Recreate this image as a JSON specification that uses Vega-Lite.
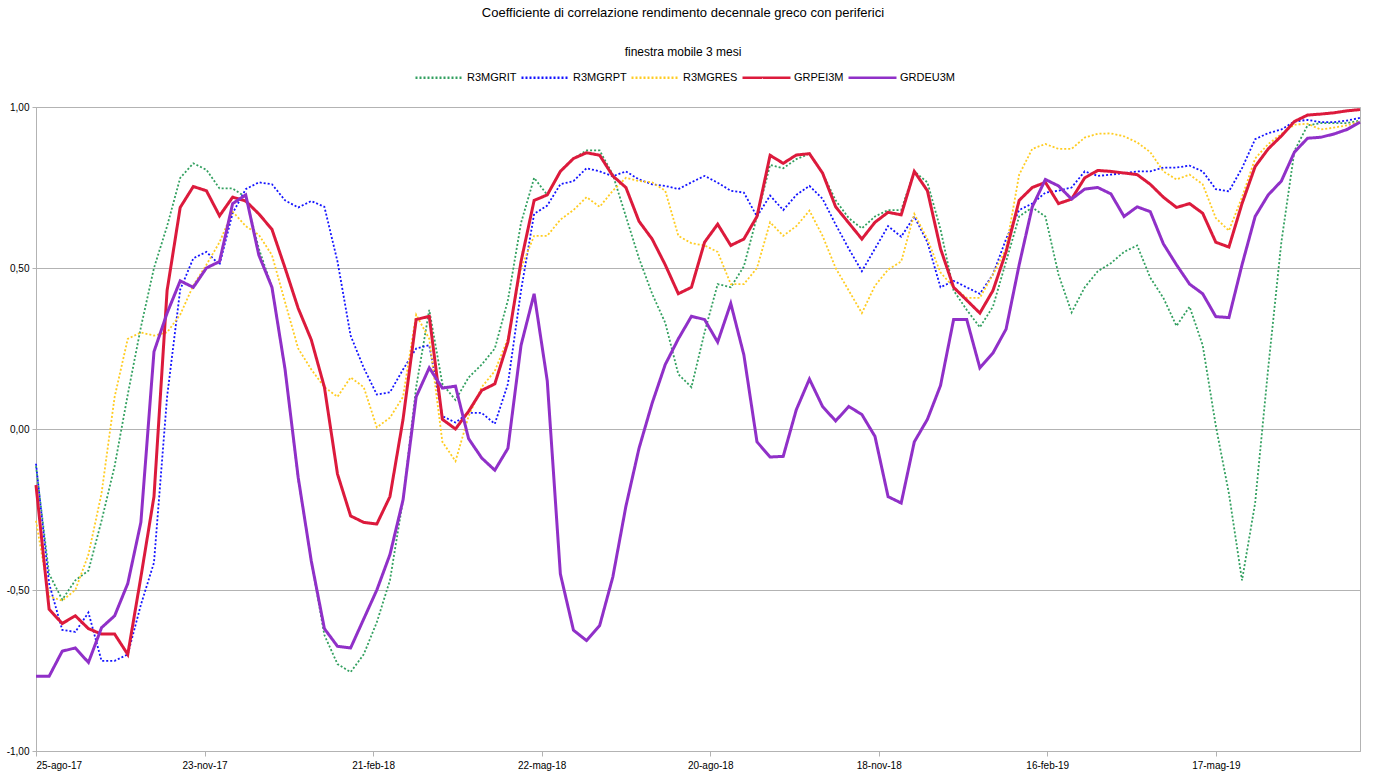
{
"$schema": "https://vega.github.io/schema/vega-lite/v6.json",
"width": 1324, "height": 644,
"autosize": "none",
"padding": {"left": 36, "top": 107, "right": 15, "bottom": 26},
"background": "white",
"title": {"text": "Coefficiente di correlazione rendimento decennale greco con periferici", "subtitle": "finestra mobile 3 mesi", "anchor": "middle", "dx": -15, "offset": -6, "fontSize": 13, "subtitleFontSize": 12, "font": "Liberation Sans", "subtitleFont": "Liberation Sans", "fontWeight": "normal", "color": "black", "subtitleColor": "black", "subtitlePadding": 27},
"config": {
  "locale": {"number": {"decimal": ",", "thousands": ".", "grouping": [3], "currency": ["", " €"], "minus": "-"},
    "time": {"dateTime": "%A %e %B %Y, %X", "date": "%d/%m/%Y", "time": "%H:%M:%S", "periods": ["AM", "PM"], "days": ["domenica","lunedì","martedì","mercoledì","giovedì","venerdì","sabato"], "shortDays": ["dom","lun","mar","mer","gio","ven","sab"], "months": ["gennaio","febbraio","marzo","aprile","maggio","giugno","luglio","agosto","settembre","ottobre","novembre","dicembre"], "shortMonths": ["gen","feb","mar","apr","mag","giu","lug","ago","set","ott","nov","dic"]}},
  "view": {"stroke": "#b3b3b3"},
  "axis": {"labelFont": "Liberation Sans", "labelFontSize": 10, "labelColor": "black", "domainColor": "#b3b3b3", "tickColor": "#b3b3b3", "gridColor": "#b3b3b3"},
  "legend": {"orient": "none", "legendX": 378, "legendY": -55, "direction": "horizontal", "title": null, "symbolType": "stroke", "symbolSize": 2304, "symbolStrokeWidth": 2.5, "labelFontSize": 11, "labelFont": "Liberation Sans", "labelColor": "black", "columnPadding": -1, "labelOffset": 2}
},
"data": {"values": [
{"d":"2017-08-25","R3MGRIT":-0.115,"R3MGRPT":-0.108,"R3MGRES":-0.285,"GRPEI3M":-0.174,"GRDEU3M":-0.768},
{"d":"2017-09-01","R3MGRIT":-0.45,"R3MGRPT":-0.48,"R3MGRES":-0.52,"GRPEI3M":-0.56,"GRDEU3M":-0.768},
{"d":"2017-09-08","R3MGRIT":-0.53,"R3MGRPT":-0.624,"R3MGRES":-0.533,"GRPEI3M":-0.604,"GRDEU3M":-0.69},
{"d":"2017-09-15","R3MGRIT":-0.47,"R3MGRPT":-0.63,"R3MGRES":-0.5,"GRPEI3M":-0.58,"GRDEU3M":-0.68},
{"d":"2017-09-22","R3MGRIT":-0.44,"R3MGRPT":-0.57,"R3MGRES":-0.39,"GRPEI3M":-0.62,"GRDEU3M":-0.725},
{"d":"2017-09-29","R3MGRIT":-0.285,"R3MGRPT":-0.72,"R3MGRES":-0.2,"GRPEI3M":-0.637,"GRDEU3M":-0.617},
{"d":"2017-10-06","R3MGRIT":-0.115,"R3MGRPT":-0.72,"R3MGRES":0.1,"GRPEI3M":-0.637,"GRDEU3M":-0.58},
{"d":"2017-10-13","R3MGRIT":0.107,"R3MGRPT":-0.7,"R3MGRES":0.28,"GRPEI3M":-0.7,"GRDEU3M":-0.48},
{"d":"2017-10-20","R3MGRIT":0.316,"R3MGRPT":-0.546,"R3MGRES":0.3,"GRPEI3M":-0.46,"GRDEU3M":-0.29},
{"d":"2017-10-27","R3MGRIT":0.5,"R3MGRPT":-0.415,"R3MGRES":0.29,"GRPEI3M":-0.21,"GRDEU3M":0.24},
{"d":"2017-11-03","R3MGRIT":0.63,"R3MGRPT":0.1,"R3MGRES":0.3,"GRPEI3M":0.43,"GRDEU3M":0.36},
{"d":"2017-11-10","R3MGRIT":0.78,"R3MGRPT":0.433,"R3MGRES":0.355,"GRPEI3M":0.688,"GRDEU3M":0.46},
{"d":"2017-11-17","R3MGRIT":0.825,"R3MGRPT":0.53,"R3MGRES":0.446,"GRPEI3M":0.753,"GRDEU3M":0.44},
{"d":"2017-11-24","R3MGRIT":0.805,"R3MGRPT":0.55,"R3MGRES":0.51,"GRPEI3M":0.74,"GRDEU3M":0.5},
{"d":"2017-12-01","R3MGRIT":0.747,"R3MGRPT":0.51,"R3MGRES":0.58,"GRPEI3M":0.662,"GRDEU3M":0.52},
{"d":"2017-12-08","R3MGRIT":0.747,"R3MGRPT":0.67,"R3MGRES":0.675,"GRPEI3M":0.72,"GRDEU3M":0.7},
{"d":"2017-12-15","R3MGRIT":0.72,"R3MGRPT":0.745,"R3MGRES":0.63,"GRPEI3M":0.708,"GRDEU3M":0.727},
{"d":"2017-12-22","R3MGRIT":0.56,"R3MGRPT":0.766,"R3MGRES":0.603,"GRPEI3M":0.668,"GRDEU3M":0.54},
{"d":"2017-12-29","R3MGRIT":0.44,"R3MGRPT":0.76,"R3MGRES":0.54,"GRPEI3M":0.62,"GRDEU3M":0.44},
{"d":"2018-01-05","R3MGRIT":0.185,"R3MGRPT":0.71,"R3MGRES":0.394,"GRPEI3M":0.5,"GRDEU3M":0.185},
{"d":"2018-01-12","R3MGRIT":-0.154,"R3MGRPT":0.688,"R3MGRES":0.25,"GRPEI3M":0.375,"GRDEU3M":-0.15},
{"d":"2018-01-19","R3MGRIT":-0.41,"R3MGRPT":0.708,"R3MGRES":0.185,"GRPEI3M":0.277,"GRDEU3M":-0.41},
{"d":"2018-01-26","R3MGRIT":-0.64,"R3MGRPT":0.69,"R3MGRES":0.13,"GRPEI3M":0.13,"GRDEU3M":-0.62},
{"d":"2018-02-02","R3MGRIT":-0.73,"R3MGRPT":0.52,"R3MGRES":0.1,"GRPEI3M":-0.14,"GRDEU3M":-0.675},
{"d":"2018-02-09","R3MGRIT":-0.755,"R3MGRPT":0.29,"R3MGRES":0.16,"GRPEI3M":-0.27,"GRDEU3M":-0.68},
{"d":"2018-02-16","R3MGRIT":-0.7,"R3MGRPT":0.19,"R3MGRES":0.13,"GRPEI3M":-0.29,"GRDEU3M":-0.59},
{"d":"2018-02-23","R3MGRIT":-0.6,"R3MGRPT":0.107,"R3MGRES":0.005,"GRPEI3M":-0.295,"GRDEU3M":-0.5},
{"d":"2018-03-02","R3MGRIT":-0.47,"R3MGRPT":0.114,"R3MGRES":0.035,"GRPEI3M":-0.21,"GRDEU3M":-0.39},
{"d":"2018-03-09","R3MGRIT":-0.22,"R3MGRPT":0.185,"R3MGRES":0.1,"GRPEI3M":0.03,"GRDEU3M":-0.22},
{"d":"2018-03-16","R3MGRIT":0.13,"R3MGRPT":0.25,"R3MGRES":0.355,"GRPEI3M":0.34,"GRDEU3M":0.1},
{"d":"2018-03-23","R3MGRIT":0.37,"R3MGRPT":0.26,"R3MGRES":0.28,"GRPEI3M":0.35,"GRDEU3M":0.19},
{"d":"2018-03-30","R3MGRIT":0.14,"R3MGRPT":0.04,"R3MGRES":-0.04,"GRPEI3M":0.03,"GRDEU3M":0.127},
{"d":"2018-04-06","R3MGRIT":0.09,"R3MGRPT":0.02,"R3MGRES":-0.1,"GRPEI3M":0.0,"GRDEU3M":0.133},
{"d":"2018-04-13","R3MGRIT":0.16,"R3MGRPT":0.05,"R3MGRES":0.04,"GRPEI3M":0.055,"GRDEU3M":-0.03},
{"d":"2018-04-20","R3MGRIT":0.2,"R3MGRPT":0.05,"R3MGRES":0.13,"GRPEI3M":0.12,"GRDEU3M":-0.09},
{"d":"2018-04-27","R3MGRIT":0.25,"R3MGRPT":0.016,"R3MGRES":0.18,"GRPEI3M":0.14,"GRDEU3M":-0.128},
{"d":"2018-05-04","R3MGRIT":0.4,"R3MGRPT":0.14,"R3MGRES":0.28,"GRPEI3M":0.27,"GRDEU3M":-0.06},
{"d":"2018-05-11","R3MGRIT":0.64,"R3MGRPT":0.43,"R3MGRES":0.5,"GRPEI3M":0.52,"GRDEU3M":0.26},
{"d":"2018-05-18","R3MGRIT":0.78,"R3MGRPT":0.668,"R3MGRES":0.6,"GRPEI3M":0.71,"GRDEU3M":0.42},
{"d":"2018-05-25","R3MGRIT":0.727,"R3MGRPT":0.694,"R3MGRES":0.6,"GRPEI3M":0.727,"GRDEU3M":0.15},
{"d":"2018-06-01","R3MGRIT":0.8,"R3MGRPT":0.76,"R3MGRES":0.65,"GRPEI3M":0.8,"GRDEU3M":-0.45},
{"d":"2018-06-08","R3MGRIT":0.84,"R3MGRPT":0.77,"R3MGRES":0.68,"GRPEI3M":0.84,"GRDEU3M":-0.625},
{"d":"2018-06-15","R3MGRIT":0.865,"R3MGRPT":0.81,"R3MGRES":0.72,"GRPEI3M":0.858,"GRDEU3M":-0.657},
{"d":"2018-06-22","R3MGRIT":0.865,"R3MGRPT":0.8,"R3MGRES":0.69,"GRPEI3M":0.85,"GRDEU3M":-0.61},
{"d":"2018-06-29","R3MGRIT":0.79,"R3MGRPT":0.785,"R3MGRES":0.74,"GRPEI3M":0.786,"GRDEU3M":-0.46},
{"d":"2018-07-06","R3MGRIT":0.66,"R3MGRPT":0.8,"R3MGRES":0.78,"GRPEI3M":0.75,"GRDEU3M":-0.24},
{"d":"2018-07-13","R3MGRIT":0.53,"R3MGRPT":0.775,"R3MGRES":0.77,"GRPEI3M":0.645,"GRDEU3M":-0.06},
{"d":"2018-07-20","R3MGRIT":0.42,"R3MGRPT":0.76,"R3MGRES":0.766,"GRPEI3M":0.59,"GRDEU3M":0.08},
{"d":"2018-07-27","R3MGRIT":0.33,"R3MGRPT":0.755,"R3MGRES":0.74,"GRPEI3M":0.51,"GRDEU3M":0.2},
{"d":"2018-08-03","R3MGRIT":0.17,"R3MGRPT":0.745,"R3MGRES":0.6,"GRPEI3M":0.42,"GRDEU3M":0.28},
{"d":"2018-08-10","R3MGRIT":0.13,"R3MGRPT":0.766,"R3MGRES":0.577,"GRPEI3M":0.44,"GRDEU3M":0.35},
{"d":"2018-08-17","R3MGRIT":0.3,"R3MGRPT":0.786,"R3MGRES":0.57,"GRPEI3M":0.58,"GRDEU3M":0.34},
{"d":"2018-08-24","R3MGRIT":0.45,"R3MGRPT":0.765,"R3MGRES":0.55,"GRPEI3M":0.636,"GRDEU3M":0.27},
{"d":"2018-08-31","R3MGRIT":0.44,"R3MGRPT":0.74,"R3MGRES":0.45,"GRPEI3M":0.57,"GRDEU3M":0.39},
{"d":"2018-09-07","R3MGRIT":0.505,"R3MGRPT":0.734,"R3MGRES":0.45,"GRPEI3M":0.59,"GRDEU3M":0.23},
{"d":"2018-09-14","R3MGRIT":0.66,"R3MGRPT":0.66,"R3MGRES":0.5,"GRPEI3M":0.66,"GRDEU3M":-0.04},
{"d":"2018-09-21","R3MGRIT":0.82,"R3MGRPT":0.725,"R3MGRES":0.642,"GRPEI3M":0.85,"GRDEU3M":-0.087},
{"d":"2018-09-28","R3MGRIT":0.81,"R3MGRPT":0.68,"R3MGRES":0.6,"GRPEI3M":0.825,"GRDEU3M":-0.085},
{"d":"2018-10-05","R3MGRIT":0.838,"R3MGRPT":0.727,"R3MGRES":0.63,"GRPEI3M":0.851,"GRDEU3M":0.06},
{"d":"2018-10-12","R3MGRIT":0.855,"R3MGRPT":0.755,"R3MGRES":0.678,"GRPEI3M":0.855,"GRDEU3M":0.155},
{"d":"2018-10-19","R3MGRIT":0.795,"R3MGRPT":0.715,"R3MGRES":0.6,"GRPEI3M":0.795,"GRDEU3M":0.07},
{"d":"2018-10-26","R3MGRIT":0.71,"R3MGRPT":0.635,"R3MGRES":0.5,"GRPEI3M":0.69,"GRDEU3M":0.025},
{"d":"2018-11-02","R3MGRIT":0.655,"R3MGRPT":0.56,"R3MGRES":0.43,"GRPEI3M":0.64,"GRDEU3M":0.07},
{"d":"2018-11-09","R3MGRIT":0.623,"R3MGRPT":0.49,"R3MGRES":0.36,"GRPEI3M":0.59,"GRDEU3M":0.045},
{"d":"2018-11-16","R3MGRIT":0.66,"R3MGRPT":0.56,"R3MGRES":0.445,"GRPEI3M":0.642,"GRDEU3M":-0.023},
{"d":"2018-11-23","R3MGRIT":0.68,"R3MGRPT":0.63,"R3MGRES":0.495,"GRPEI3M":0.673,"GRDEU3M":-0.21},
{"d":"2018-11-30","R3MGRIT":0.68,"R3MGRPT":0.597,"R3MGRES":0.52,"GRPEI3M":0.665,"GRDEU3M":-0.23},
{"d":"2018-12-07","R3MGRIT":0.8,"R3MGRPT":0.66,"R3MGRES":0.668,"GRPEI3M":0.8,"GRDEU3M":-0.04},
{"d":"2018-12-14","R3MGRIT":0.766,"R3MGRPT":0.58,"R3MGRES":0.59,"GRPEI3M":0.74,"GRDEU3M":0.03},
{"d":"2018-12-21","R3MGRIT":0.62,"R3MGRPT":0.44,"R3MGRES":0.486,"GRPEI3M":0.56,"GRDEU3M":0.135},
{"d":"2018-12-28","R3MGRIT":0.43,"R3MGRPT":0.46,"R3MGRES":0.44,"GRPEI3M":0.44,"GRDEU3M":0.34},
{"d":"2019-01-04","R3MGRIT":0.37,"R3MGRPT":0.44,"R3MGRES":0.407,"GRPEI3M":0.4,"GRDEU3M":0.34},
{"d":"2019-01-11","R3MGRIT":0.316,"R3MGRPT":0.42,"R3MGRES":0.407,"GRPEI3M":0.36,"GRDEU3M":0.19},
{"d":"2019-01-18","R3MGRIT":0.38,"R3MGRPT":0.48,"R3MGRES":0.48,"GRPEI3M":0.43,"GRDEU3M":0.236},
{"d":"2019-01-25","R3MGRIT":0.52,"R3MGRPT":0.59,"R3MGRES":0.56,"GRPEI3M":0.55,"GRDEU3M":0.31},
{"d":"2019-02-01","R3MGRIT":0.66,"R3MGRPT":0.68,"R3MGRES":0.79,"GRPEI3M":0.71,"GRDEU3M":0.51},
{"d":"2019-02-08","R3MGRIT":0.688,"R3MGRPT":0.7,"R3MGRES":0.87,"GRPEI3M":0.75,"GRDEU3M":0.69},
{"d":"2019-02-15","R3MGRIT":0.66,"R3MGRPT":0.734,"R3MGRES":0.885,"GRPEI3M":0.766,"GRDEU3M":0.775},
{"d":"2019-02-22","R3MGRIT":0.48,"R3MGRPT":0.74,"R3MGRES":0.87,"GRPEI3M":0.7,"GRDEU3M":0.755},
{"d":"2019-03-01","R3MGRIT":0.362,"R3MGRPT":0.75,"R3MGRES":0.87,"GRPEI3M":0.714,"GRDEU3M":0.714},
{"d":"2019-03-08","R3MGRIT":0.44,"R3MGRPT":0.8,"R3MGRES":0.905,"GRPEI3M":0.78,"GRDEU3M":0.745},
{"d":"2019-03-15","R3MGRIT":0.49,"R3MGRPT":0.786,"R3MGRES":0.917,"GRPEI3M":0.803,"GRDEU3M":0.75},
{"d":"2019-03-22","R3MGRIT":0.515,"R3MGRPT":0.79,"R3MGRES":0.918,"GRPEI3M":0.8,"GRDEU3M":0.73},
{"d":"2019-03-29","R3MGRIT":0.55,"R3MGRPT":0.795,"R3MGRES":0.909,"GRPEI3M":0.795,"GRDEU3M":0.66},
{"d":"2019-04-05","R3MGRIT":0.57,"R3MGRPT":0.8,"R3MGRES":0.89,"GRPEI3M":0.79,"GRDEU3M":0.69},
{"d":"2019-04-12","R3MGRIT":0.47,"R3MGRPT":0.8,"R3MGRES":0.86,"GRPEI3M":0.76,"GRDEU3M":0.675},
{"d":"2019-04-19","R3MGRIT":0.407,"R3MGRPT":0.812,"R3MGRES":0.8,"GRPEI3M":0.72,"GRDEU3M":0.575},
{"d":"2019-04-26","R3MGRIT":0.32,"R3MGRPT":0.812,"R3MGRES":0.775,"GRPEI3M":0.688,"GRDEU3M":0.51},
{"d":"2019-05-03","R3MGRIT":0.38,"R3MGRPT":0.818,"R3MGRES":0.79,"GRPEI3M":0.7,"GRDEU3M":0.45},
{"d":"2019-05-10","R3MGRIT":0.26,"R3MGRPT":0.8,"R3MGRES":0.76,"GRPEI3M":0.67,"GRDEU3M":0.42},
{"d":"2019-05-17","R3MGRIT":0.01,"R3MGRPT":0.745,"R3MGRES":0.655,"GRPEI3M":0.58,"GRDEU3M":0.349},
{"d":"2019-05-24","R3MGRIT":-0.2,"R3MGRPT":0.738,"R3MGRES":0.616,"GRPEI3M":0.565,"GRDEU3M":0.346},
{"d":"2019-05-31","R3MGRIT":-0.47,"R3MGRPT":0.81,"R3MGRES":0.72,"GRPEI3M":0.7,"GRDEU3M":0.51},
{"d":"2019-06-07","R3MGRIT":-0.23,"R3MGRPT":0.9,"R3MGRES":0.84,"GRPEI3M":0.815,"GRDEU3M":0.66},
{"d":"2019-06-14","R3MGRIT":0.19,"R3MGRPT":0.919,"R3MGRES":0.885,"GRPEI3M":0.87,"GRDEU3M":0.727},
{"d":"2019-06-21","R3MGRIT":0.58,"R3MGRPT":0.93,"R3MGRES":0.916,"GRPEI3M":0.91,"GRDEU3M":0.77},
{"d":"2019-06-28","R3MGRIT":0.864,"R3MGRPT":0.955,"R3MGRES":0.945,"GRPEI3M":0.955,"GRDEU3M":0.86},
{"d":"2019-07-05","R3MGRIT":0.943,"R3MGRPT":0.96,"R3MGRES":0.948,"GRPEI3M":0.975,"GRDEU3M":0.903},
{"d":"2019-07-12","R3MGRIT":0.95,"R3MGRPT":0.953,"R3MGRES":0.93,"GRPEI3M":0.978,"GRDEU3M":0.906},
{"d":"2019-07-19","R3MGRIT":0.95,"R3MGRPT":0.953,"R3MGRES":0.936,"GRPEI3M":0.982,"GRDEU3M":0.916},
{"d":"2019-07-26","R3MGRIT":0.95,"R3MGRPT":0.958,"R3MGRES":0.943,"GRPEI3M":0.988,"GRDEU3M":0.93},
{"d":"2019-08-02","R3MGRIT":0.958,"R3MGRPT":0.966,"R3MGRES":0.955,"GRPEI3M":0.992,"GRDEU3M":0.953}
]},
"transform": [{"fold": ["R3MGRIT","R3MGRPT","R3MGRES","GRPEI3M","GRDEU3M"], "as": ["serie","val"]}],
"encoding": {
  "x": {"field": "d", "type": "temporal",
    "scale": {"type": "utc", "domain": [{"year":2017,"month":8,"date":25,"utc":true},{"year":2019,"month":8,"date":2,"utc":true}]},
    "axis": {"values": [{"year":2017,"month":8,"date":25,"utc":true},{"year":2017,"month":11,"date":23,"utc":true},{"year":2018,"month":2,"date":21,"utc":true},{"year":2018,"month":5,"date":22,"utc":true},{"year":2018,"month":8,"date":20,"utc":true},{"year":2018,"month":11,"date":18,"utc":true},{"year":2019,"month":2,"date":16,"utc":true},{"year":2019,"month":5,"date":17,"utc":true}],
      "labelExpr": "utcFormat(datum.value, '%d-%b-%y')", "title": null, "grid": false, "tickSize": 5, "labelPadding": 4, "labelOverlap": false}},
  "y": {"field": "val", "type": "quantitative", "scale": {"domain": [-1, 1], "nice": false},
    "axis": {"values": [-1, -0.5, 0, 0.5, 1], "format": ".2f", "title": null, "grid": true, "tickSize": 4, "labelPadding": 3}},
  "color": {"field": "serie", "type": "nominal",
    "scale": {"domain": ["R3MGRIT","R3MGRPT","R3MGRES","GRPEI3M","GRDEU3M"], "range": ["#33a060","#1414ff","#ffcc22","#dc1a3c","#9030c8"]}},
  "strokeDash": {"field": "serie", "type": "nominal",
    "scale": {"domain": ["R3MGRIT","R3MGRPT","R3MGRES","GRPEI3M","GRDEU3M"], "range": [[2,2],[2,2],[2,2],[1,0],[1,0]]}}
},
"layer": [
  {"transform": [{"filter": {"field": "serie", "oneOf": ["R3MGRIT","R3MGRPT","R3MGRES"]}}], "mark": {"type": "line", "strokeWidth": 1.8}},
  {"transform": [{"filter": {"field": "serie", "oneOf": ["GRPEI3M","GRDEU3M"]}}], "mark": {"type": "line", "strokeWidth": 3}}
]
}
